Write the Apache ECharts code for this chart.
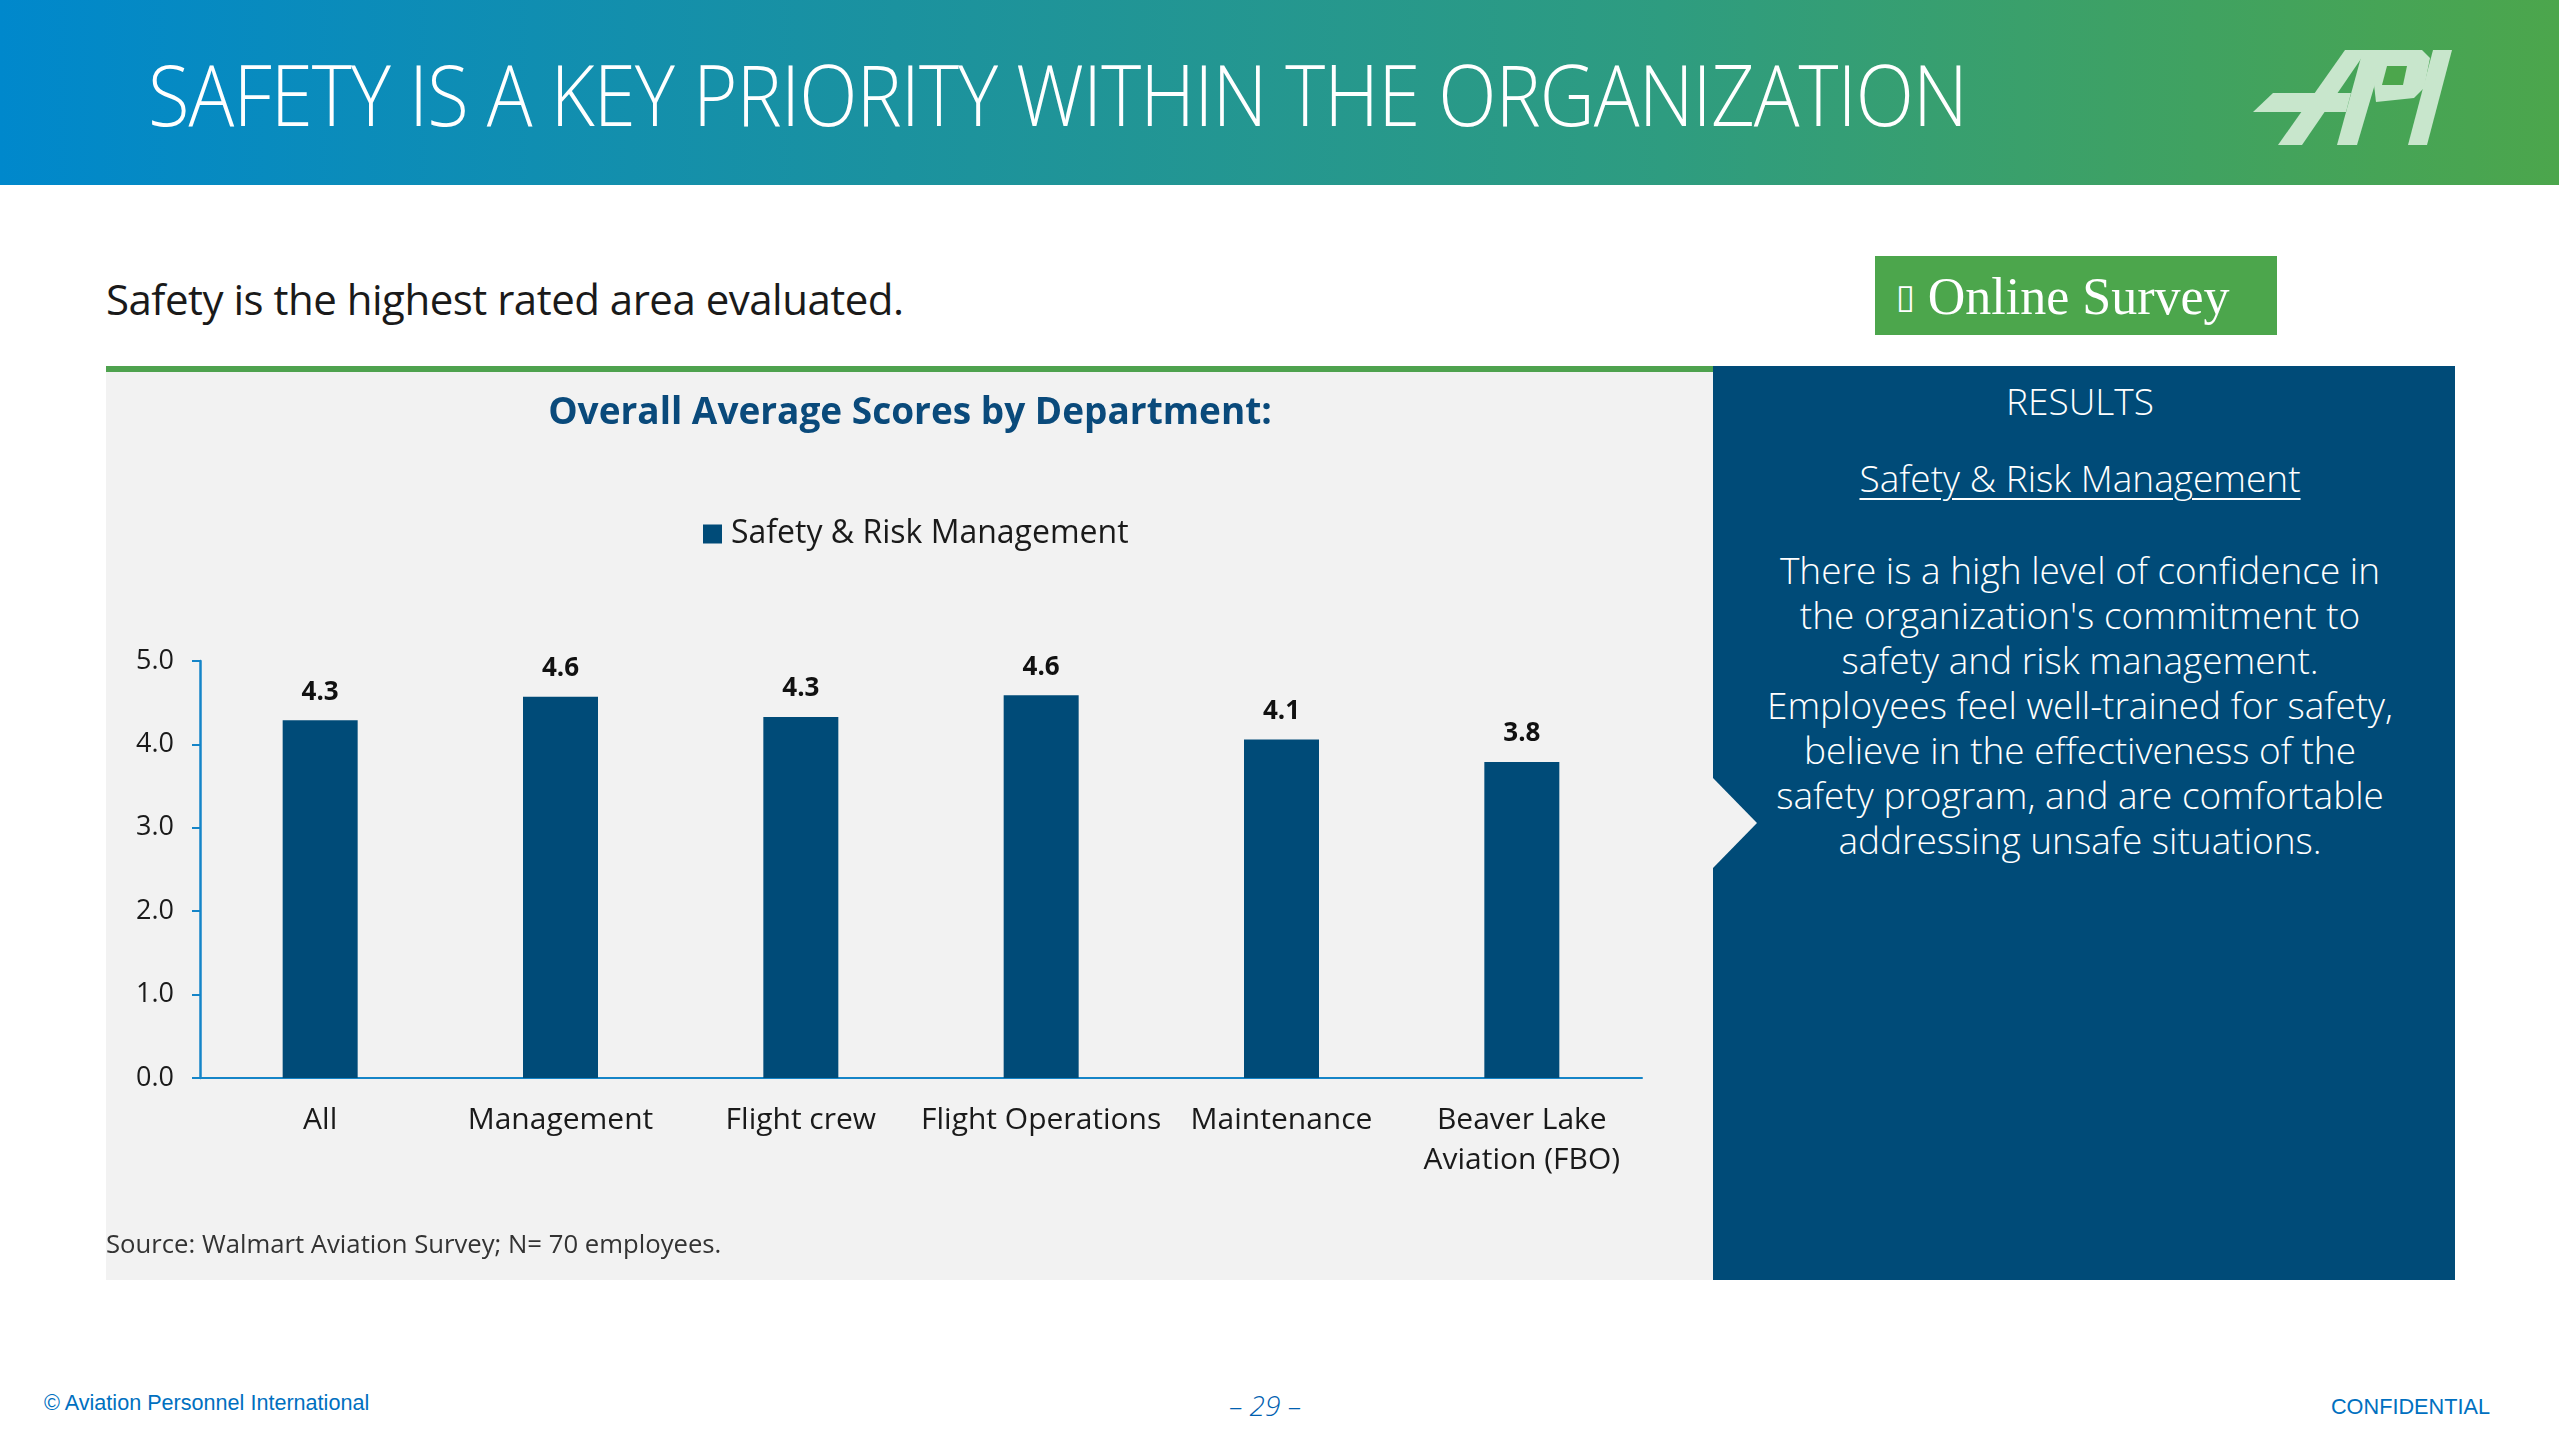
<!DOCTYPE html>
<html>
<head>
<meta charset="utf-8">
<script src="https://cdn.jsdelivr.net/npm/echarts@6/dist/echarts.min.js"></script>
<style>
  html,body{margin:0;padding:0;}
  body{width:2559px;height:1439px;position:relative;overflow:hidden;background:#fff;font-family:"Open Sans",sans-serif;}
  .abs{position:absolute;}
  #banner{left:0;top:0;width:2559px;height:185px;background:linear-gradient(90deg,#0088CC 0%,#1B929F 35%,#2E9C80 65%,#4CA64C 100%);}
  #btitle{left:148px;top:44px;font-size:84px;font-weight:300;color:#fff;line-height:100px;white-space:nowrap;letter-spacing:-1px;transform:scaleX(0.906);transform-origin:0 0;}
  #logo{left:2230px;top:30px;width:250px;height:130px;}
  #subtitle{left:106px;top:271px;font-size:42px;line-height:56px;color:#1a1a1a;white-space:nowrap;letter-spacing:-0.5px;}
  #survey{left:1875px;top:256px;width:402px;height:79px;background:#4CA64C;}
  #surveytxt{left:1896px;top:266px;font-family:"Liberation Serif",serif;font-size:52px;line-height:60px;color:#fff;white-space:nowrap;}
  #greenline{left:106px;top:366px;width:1608px;height:6px;background:#4EA24E;}
  #gray{left:106px;top:372px;width:1608px;height:908px;background:#F2F2F2;}
  #blue{left:1713px;top:366px;width:742px;height:914px;background:#004B78;}
  #notch{left:1713px;top:778px;width:0;height:0;border-top:45px solid transparent;border-bottom:45px solid transparent;border-left:44px solid #F2F2F2;}
  #chart{left:106px;top:372px;width:1608px;height:908px;}
  .btxt{left:1709px;width:742px;text-align:center;color:#fff;font-weight:300;}
  #results{top:377px;font-size:37px;line-height:48px;}
  #srm{top:454px;font-size:37px;line-height:48px;}
  #srm span{text-decoration:underline;text-decoration-thickness:2px;text-underline-offset:6px;}
  #para{top:547px;font-size:37px;line-height:45px;}
  .foot{font-family:"Liberation Sans",Arial,sans-serif;color:#0070C0;white-space:nowrap;}
  #f1{left:44px;top:1391px;font-size:21.6px;line-height:24px;}
  #f2{left:1205px;top:1388px;width:120px;text-align:center;font-size:28px;line-height:34px;font-style:italic;color:#0060B0;font-family:"Open Sans",sans-serif;font-weight:300;}
  #f3{left:2290px;top:1395px;width:200px;text-align:right;font-size:21.7px;line-height:24px;}
</style>
</head>
<body>
<div id="banner" class="abs"></div>
<div id="btitle" class="abs">SAFETY IS A KEY PRIORITY WITHIN THE ORGANIZATION</div>
<svg id="logo" class="abs" viewBox="0 0 250 130">
  <g fill="#C8E6CC">
    <polygon points="48,115 115,20 137,20 72,115"/>
    <polygon points="107,115 133,20 155,20 127,115"/>
    <polygon points="140,20 192,20 200,28 194,58 184,68 146,72"/>
    <polygon points="23,82 43,63 121,63 116,82"/>
    <polygon points="203,20 222,20 197,115 178,115"/>
  </g>
  <polygon fill="#4CA64C" points="157,36 177,36 173,55 152,55"/>
</svg>
<div id="subtitle" class="abs">Safety is the highest rated area evaluated.</div>
<div id="survey" class="abs"></div>
<div id="surveytxt" class="abs"><span style="font-family:'DejaVu Sans';font-size:34px;vertical-align:6px;">&#x25AF;</span> Online Survey</div>
<div id="gray" class="abs"></div>
<div id="greenline" class="abs"></div>
<div id="blue" class="abs"></div>
<div id="notch" class="abs"></div>
<div id="results" class="abs btxt">RESULTS</div>
<div id="srm" class="abs btxt"><span>Safety &amp; Risk Management</span></div>
<div id="para" class="abs btxt">There is a high level of confidence in<br>the organization's commitment to<br>safety and risk management.<br>Employees feel well-trained for safety,<br>believe in the effectiveness of the<br>safety program, and are comfortable<br>addressing unsafe situations.</div>
<div id="chart" class="abs"></div>
<div id="f1" class="abs foot">© Aviation Personnel International</div>
<div id="f2" class="abs foot">– 29 –</div>
<div id="f3" class="abs foot">CONFIDENTIAL</div>
<script>
const categories = ['All', 'Management', 'Flight crew', 'Flight Operations', 'Maintenance', 'Beaver Lake\nAviation (FBO)'];
const safetyScores = [4.29, 4.57, 4.33, 4.59, 4.06, 3.79];
const seriesName = 'Safety & Risk Management';
const yTicks = {min: 0, max: 5, interval: 1};

const chart = echarts.init(document.getElementById('chart'), null, {renderer: 'canvas'});
chart.setOption({
  backgroundColor: 'transparent',
  animation: false,
  title: {
    text: 'Overall Average Scores by Department:',
    left: 'center',
    top: 18,
    textStyle: {fontFamily: 'Open Sans', fontSize: 37, fontWeight: 'bold', color: '#0A4A7B'}
  },
  legend: {
    data: [seriesName],
    top: 141,
    left: 592,
    icon: 'rect',
    itemWidth: 19,
    itemHeight: 19,
    itemGap: 10,
    textStyle: {fontFamily: 'Open Sans', fontSize: 32, color: '#1a1a1a', padding: [0, 0, 0, 4]}
  },
  grid: {left: 94, right: 72, top: 289, bottom: 202, containLabel: false},
  xAxis: {
    type: 'category',
    data: categories,
    axisLine: {show: true, lineStyle: {color: '#1585C8', width: 2}},
    axisTick: {show: false},
    axisLabel: {fontFamily: 'Open Sans', fontSize: 30, color: '#1a1a1a', margin: 22, lineHeight: 40, interval: 0}
  },
  yAxis: {
    type: 'value',
    min: yTicks.min,
    max: yTicks.max,
    interval: yTicks.interval,
    axisLine: {show: true, lineStyle: {color: '#1585C8', width: 2.5}},
    axisTick: {show: true, length: 8, lineStyle: {color: '#1585C8', width: 2}},
    splitLine: {show: false},
    axisLabel: {fontFamily: 'Open Sans', fontSize: 27, color: '#1a1a1a', margin: 26, formatter: v => v.toFixed(1)}
  },
  series: [{
    name: seriesName,
    type: 'bar',
    data: safetyScores,
    barWidth: 75,
    itemStyle: {color: '#004B78'},
    label: {
      show: true, position: 'top', distance: 15,
      fontFamily: 'Open Sans', fontSize: 26, fontWeight: 'bold', color: '#111',
      formatter: p => p.value.toFixed(1)
    }
  }],
  graphic: [{
    type: 'text', left: 0, top: 861,
    style: {text: 'Source: Walmart Aviation Survey; N= 70 employees.', fontFamily: 'Open Sans', fontSize: 25.7, fill: '#333'}
  }]
});
</script>
</body>
</html>
